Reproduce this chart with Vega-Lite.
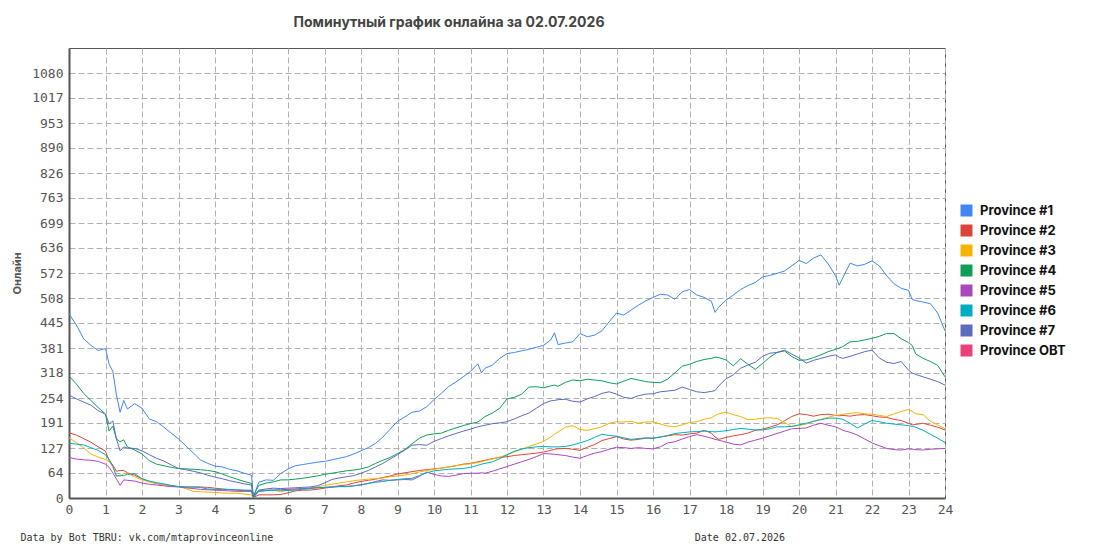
{
  "$schema": "https://vega.github.io/schema/vega-lite/v6.json",
  "width": 876,
  "height": 450,
  "autosize": {"type": "none"},
  "padding": {"left": 69, "top": 48, "right": 150, "bottom": 52},
  "background": "white",
  "title": {
    "text": "Поминутный график онлайна за 02.07.2026",
    "font": "Inter",
    "fontSize": 14,
    "fontWeight": "bold",
    "color": "#444444",
    "dx": -58,
    "offset": 18
  },
  "data": {
    "values": [
      {"h":0,"Province #1":468,"Province #2":166,"Province #3":153,"Province #4":310,"Province #5":103,"Province #6":139,"Province #7":262},
      {"h":0.2,"Province #1":440,"Province #2":160,"Province #3":141,"Province #4":290,"Province #5":99,"Province #6":137,"Province #7":252},
      {"h":0.4,"Province #1":405,"Province #2":151,"Province #3":128,"Province #4":266,"Province #5":97,"Province #6":135,"Province #7":244},
      {"h":0.6,"Province #1":388,"Province #2":142,"Province #3":112,"Province #4":248,"Province #5":96,"Province #6":128,"Province #7":236},
      {"h":0.8,"Province #1":375,"Province #2":130,"Province #3":104,"Province #4":230,"Province #5":93,"Province #6":121,"Province #7":222},
      {"h":1.0,"Province #1":380,"Province #2":119,"Province #3":98,"Province #4":213,"Province #5":86,"Province #6":110,"Province #7":213},
      {"h":1.1,"Province #1":340,"Province #2":95,"Province #3":92,"Province #4":170,"Province #5":78,"Province #6":98,"Province #7":188},
      {"h":1.2,"Province #1":322,"Province #2":84,"Province #3":80,"Province #4":183,"Province #5":64,"Province #6":80,"Province #7":196},
      {"h":1.3,"Province #1":262,"Province #2":68,"Province #3":58,"Province #4":150,"Province #5":48,"Province #6":55,"Province #7":150},
      {"h":1.4,"Province #1":218,"Province #2":70,"Province #3":55,"Province #4":143,"Province #5":32,"Province #6":58,"Province #7":120},
      {"h":1.5,"Province #1":248,"Province #2":70,"Province #3":62,"Province #4":148,"Province #5":46,"Province #6":57,"Province #7":130},
      {"h":1.6,"Province #1":226,"Province #2":64,"Province #3":63,"Province #4":130,"Province #5":45,"Province #6":60,"Province #7":127},
      {"h":1.8,"Province #1":240,"Province #2":58,"Province #3":54,"Province #4":122,"Province #5":43,"Province #6":62,"Province #7":126},
      {"h":2.0,"Province #1":228,"Province #2":49,"Province #3":46,"Province #4":112,"Province #5":38,"Province #6":49,"Province #7":120},
      {"h":2.2,"Province #1":201,"Province #2":42,"Province #3":41,"Province #4":95,"Province #5":35,"Province #6":43,"Province #7":110},
      {"h":2.4,"Province #1":194,"Province #2":37,"Province #3":37,"Province #4":86,"Province #5":33,"Province #6":39,"Province #7":101},
      {"h":2.6,"Province #1":180,"Province #2":34,"Province #3":34,"Province #4":82,"Province #5":31,"Province #6":36,"Province #7":94},
      {"h":2.8,"Province #1":165,"Province #2":31,"Province #3":31,"Province #4":78,"Province #5":29,"Province #6":32,"Province #7":84},
      {"h":3.0,"Province #1":150,"Province #2":29,"Province #3":29,"Province #4":75,"Province #5":28,"Province #6":29,"Province #7":75},
      {"h":3.2,"Province #1":133,"Province #2":28,"Province #3":24,"Province #4":74,"Province #5":26,"Province #6":28,"Province #7":72},
      {"h":3.4,"Province #1":115,"Province #2":28,"Province #3":17,"Province #4":73,"Province #5":24,"Province #6":28,"Province #7":68},
      {"h":3.6,"Province #1":97,"Province #2":28,"Province #3":16,"Province #4":72,"Province #5":22,"Province #6":27,"Province #7":64},
      {"h":3.8,"Province #1":88,"Province #2":27,"Province #3":15,"Province #4":70,"Province #5":21,"Province #6":23,"Province #7":58},
      {"h":4.0,"Province #1":81,"Province #2":25,"Province #3":14,"Province #4":67,"Province #5":20,"Province #6":22,"Province #7":53},
      {"h":4.2,"Province #1":79,"Province #2":23,"Province #3":13,"Province #4":61,"Province #5":19,"Province #6":22,"Province #7":49},
      {"h":4.4,"Province #1":73,"Province #2":21,"Province #3":12,"Province #4":54,"Province #5":18,"Province #6":22,"Province #7":44},
      {"h":4.6,"Province #1":69,"Province #2":20,"Province #3":12,"Province #4":48,"Province #5":17,"Province #6":21,"Province #7":40},
      {"h":4.8,"Province #1":63,"Province #2":19,"Province #3":10,"Province #4":42,"Province #5":17,"Province #6":20,"Province #7":36},
      {"h":5.0,"Province #1":58,"Province #2":19,"Province #3":8,"Province #4":37,"Province #5":17,"Province #6":20,"Province #7":33},
      {"h":5.05,"Province #1":2,"Province #2":1,"Province #3":2,"Province #4":5,"Province #5":3,"Province #6":1,"Province #7":4},
      {"h":5.2,"Province #1":40,"Province #2":8,"Province #3":19,"Province #4":32,"Province #5":17,"Province #6":17,"Province #7":20},
      {"h":5.4,"Province #1":46,"Province #2":8,"Province #3":20,"Province #4":38,"Province #5":19,"Province #6":19,"Province #7":23},
      {"h":5.6,"Province #1":45,"Province #2":8,"Province #3":20,"Province #4":41,"Province #5":20,"Province #6":20,"Province #7":25},
      {"h":5.8,"Province #1":62,"Province #2":9,"Province #3":16,"Province #4":46,"Province #5":21,"Province #6":20,"Province #7":24},
      {"h":6.0,"Province #1":74,"Province #2":13,"Province #3":20,"Province #4":46,"Province #5":22,"Province #6":19,"Province #7":25},
      {"h":6.2,"Province #1":82,"Province #2":18,"Province #3":22,"Province #4":48,"Province #5":23,"Province #6":20,"Province #7":26},
      {"h":6.4,"Province #1":85,"Province #2":20,"Province #3":23,"Province #4":50,"Province #5":24,"Province #6":22,"Province #7":27},
      {"h":6.6,"Province #1":88,"Province #2":20,"Province #3":25,"Province #4":53,"Province #5":25,"Province #6":24,"Province #7":28},
      {"h":6.8,"Province #1":91,"Province #2":22,"Province #3":28,"Province #4":56,"Province #5":26,"Province #6":26,"Province #7":31},
      {"h":7.0,"Province #1":93,"Province #2":25,"Province #3":32,"Province #4":60,"Province #5":27,"Province #6":27,"Province #7":38},
      {"h":7.2,"Province #1":97,"Province #2":28,"Province #3":35,"Province #4":63,"Province #5":28,"Province #6":28,"Province #7":47},
      {"h":7.4,"Province #1":101,"Province #2":31,"Province #3":38,"Province #4":66,"Province #5":29,"Province #6":29,"Province #7":51},
      {"h":7.6,"Province #1":105,"Province #2":33,"Province #3":41,"Province #4":69,"Province #5":29,"Province #6":29,"Province #7":54},
      {"h":7.8,"Province #1":112,"Province #2":38,"Province #3":44,"Province #4":71,"Province #5":31,"Province #6":31,"Province #7":57},
      {"h":8.0,"Province #1":120,"Province #2":42,"Province #3":46,"Province #4":74,"Province #5":33,"Province #6":34,"Province #7":63},
      {"h":8.2,"Province #1":128,"Province #2":45,"Province #3":48,"Province #4":79,"Province #5":37,"Province #6":37,"Province #7":70},
      {"h":8.4,"Province #1":139,"Province #2":48,"Province #3":49,"Province #4":88,"Province #5":42,"Province #6":40,"Province #7":79},
      {"h":8.6,"Province #1":155,"Province #2":52,"Province #3":51,"Province #4":96,"Province #5":46,"Province #6":42,"Province #7":88},
      {"h":8.8,"Province #1":175,"Province #2":56,"Province #3":54,"Province #4":103,"Province #5":45,"Province #6":45,"Province #7":99},
      {"h":9.0,"Province #1":195,"Province #2":61,"Province #3":56,"Province #4":113,"Province #5":46,"Province #6":47,"Province #7":110},
      {"h":9.2,"Province #1":206,"Province #2":64,"Province #3":58,"Province #4":123,"Province #5":47,"Province #6":49,"Province #7":122},
      {"h":9.4,"Province #1":218,"Province #2":67,"Province #3":62,"Province #4":138,"Province #5":46,"Province #6":50,"Province #7":134},
      {"h":9.6,"Province #1":221,"Province #2":70,"Province #3":66,"Province #4":152,"Province #5":55,"Province #6":57,"Province #7":136},
      {"h":9.8,"Province #1":232,"Province #2":72,"Province #3":70,"Province #4":160,"Province #5":66,"Province #6":64,"Province #7":134},
      {"h":10.0,"Province #1":250,"Province #2":74,"Province #3":73,"Province #4":163,"Province #5":60,"Province #6":69,"Province #7":144},
      {"h":10.2,"Province #1":266,"Province #2":76,"Province #3":76,"Province #4":165,"Province #5":56,"Province #6":71,"Province #7":151},
      {"h":10.4,"Province #1":283,"Province #2":79,"Province #3":79,"Province #4":172,"Province #5":55,"Province #6":73,"Province #7":158},
      {"h":10.6,"Province #1":295,"Province #2":82,"Province #3":82,"Province #4":178,"Province #5":58,"Province #6":74,"Province #7":164},
      {"h":10.8,"Province #1":308,"Province #2":86,"Province #3":85,"Province #4":184,"Province #5":62,"Province #6":75,"Province #7":170},
      {"h":11.0,"Province #1":322,"Province #2":88,"Province #3":87,"Province #4":189,"Province #5":63,"Province #6":78,"Province #7":175},
      {"h":11.2,"Province #1":341,"Province #2":92,"Province #3":90,"Province #4":193,"Province #5":63,"Province #6":83,"Province #7":181},
      {"h":11.3,"Province #1":318,"Province #2":94,"Province #3":92,"Province #4":200,"Province #5":64,"Province #6":86,"Province #7":183},
      {"h":11.4,"Province #1":330,"Province #2":96,"Province #3":95,"Province #4":207,"Province #5":63,"Province #6":88,"Province #7":185},
      {"h":11.6,"Province #1":338,"Province #2":100,"Province #3":99,"Province #4":216,"Province #5":68,"Province #6":92,"Province #7":189},
      {"h":11.8,"Province #1":355,"Province #2":103,"Province #3":104,"Province #4":228,"Province #5":74,"Province #6":100,"Province #7":191},
      {"h":12.0,"Province #1":367,"Province #2":105,"Province #3":110,"Province #4":252,"Province #5":80,"Province #6":110,"Province #7":194},
      {"h":12.2,"Province #1":370,"Province #2":108,"Province #3":117,"Province #4":256,"Province #5":86,"Province #6":119,"Province #7":201},
      {"h":12.4,"Province #1":374,"Province #2":110,"Province #3":124,"Province #4":264,"Province #5":92,"Province #6":124,"Province #7":209},
      {"h":12.6,"Province #1":378,"Province #2":112,"Province #3":131,"Province #4":282,"Province #5":98,"Province #6":128,"Province #7":216},
      {"h":12.8,"Province #1":383,"Province #2":114,"Province #3":137,"Province #4":283,"Province #5":105,"Province #6":130,"Province #7":228},
      {"h":13.0,"Province #1":388,"Province #2":117,"Province #3":144,"Province #4":280,"Province #5":113,"Province #6":131,"Province #7":240},
      {"h":13.2,"Province #1":402,"Province #2":121,"Province #3":155,"Province #4":285,"Province #5":112,"Province #6":130,"Province #7":247},
      {"h":13.3,"Province #1":420,"Province #2":124,"Province #3":162,"Province #4":287,"Province #5":111,"Province #6":130,"Province #7":248},
      {"h":13.4,"Province #1":390,"Province #2":125,"Province #3":168,"Province #4":284,"Province #5":110,"Province #6":130,"Province #7":250},
      {"h":13.6,"Province #1":394,"Province #2":126,"Province #3":180,"Province #4":294,"Province #5":108,"Province #6":131,"Province #7":251},
      {"h":13.8,"Province #1":397,"Province #2":124,"Province #3":184,"Province #4":300,"Province #5":104,"Province #6":135,"Province #7":246},
      {"h":14.0,"Province #1":418,"Province #2":121,"Province #3":174,"Province #4":298,"Province #5":101,"Province #6":140,"Province #7":244},
      {"h":14.2,"Province #1":410,"Province #2":129,"Province #3":172,"Province #4":302,"Province #5":108,"Province #6":146,"Province #7":252},
      {"h":14.4,"Province #1":414,"Province #2":136,"Province #3":176,"Province #4":300,"Province #5":114,"Province #6":154,"Province #7":258},
      {"h":14.6,"Province #1":425,"Province #2":146,"Province #3":181,"Province #4":298,"Province #5":118,"Province #6":162,"Province #7":266},
      {"h":14.8,"Province #1":448,"Province #2":151,"Province #3":190,"Province #4":293,"Province #5":124,"Province #6":159,"Province #7":270},
      {"h":15.0,"Province #1":470,"Province #2":156,"Province #3":194,"Province #4":290,"Province #5":129,"Province #6":157,"Province #7":264},
      {"h":15.2,"Province #1":465,"Province #2":150,"Province #3":193,"Province #4":297,"Province #5":128,"Province #6":153,"Province #7":256},
      {"h":15.4,"Province #1":478,"Province #2":147,"Province #3":195,"Province #4":304,"Province #5":126,"Province #6":149,"Province #7":253},
      {"h":15.6,"Province #1":490,"Province #2":149,"Province #3":190,"Province #4":300,"Province #5":128,"Province #6":151,"Province #7":260},
      {"h":15.8,"Province #1":501,"Province #2":152,"Province #3":193,"Province #4":296,"Province #5":126,"Province #6":153,"Province #7":264},
      {"h":16.0,"Province #1":510,"Province #2":152,"Province #3":194,"Province #4":294,"Province #5":125,"Province #6":152,"Province #7":265},
      {"h":16.2,"Province #1":518,"Province #2":155,"Province #3":188,"Province #4":293,"Province #5":130,"Province #6":155,"Province #7":270},
      {"h":16.4,"Province #1":516,"Province #2":158,"Province #3":183,"Province #4":302,"Province #5":140,"Province #6":159,"Province #7":272},
      {"h":16.6,"Province #1":505,"Province #2":161,"Province #3":181,"Province #4":318,"Province #5":143,"Province #6":164,"Province #7":274},
      {"h":16.8,"Province #1":524,"Province #2":160,"Province #3":186,"Province #4":335,"Province #5":150,"Province #6":166,"Province #7":282},
      {"h":17.0,"Province #1":530,"Province #2":163,"Province #3":192,"Province #4":340,"Province #5":156,"Province #6":168,"Province #7":276},
      {"h":17.2,"Province #1":516,"Province #2":165,"Province #3":194,"Province #4":347,"Province #5":161,"Province #6":169,"Province #7":270},
      {"h":17.4,"Province #1":510,"Province #2":172,"Province #3":200,"Province #4":352,"Province #5":157,"Province #6":170,"Province #7":268},
      {"h":17.6,"Province #1":500,"Province #2":165,"Province #3":204,"Province #4":355,"Province #5":152,"Province #6":169,"Province #7":271},
      {"h":17.7,"Province #1":472,"Province #2":155,"Province #3":210,"Province #4":358,"Province #5":149,"Province #6":168,"Province #7":273},
      {"h":17.8,"Province #1":485,"Province #2":149,"Province #3":214,"Province #4":357,"Province #5":147,"Province #6":169,"Province #7":285},
      {"h":18.0,"Province #1":503,"Province #2":154,"Province #3":218,"Province #4":351,"Province #5":142,"Province #6":171,"Province #7":303},
      {"h":18.2,"Province #1":516,"Province #2":158,"Province #3":212,"Province #4":336,"Province #5":137,"Province #6":174,"Province #7":313},
      {"h":18.4,"Province #1":530,"Province #2":161,"Province #3":207,"Province #4":354,"Province #5":135,"Province #6":177,"Province #7":330},
      {"h":18.6,"Province #1":540,"Province #2":165,"Province #3":199,"Province #4":340,"Province #5":142,"Province #6":175,"Province #7":338},
      {"h":18.8,"Province #1":548,"Province #2":172,"Province #3":200,"Province #4":327,"Province #5":147,"Province #6":173,"Province #7":345},
      {"h":19.0,"Province #1":562,"Province #2":175,"Province #3":203,"Province #4":342,"Province #5":152,"Province #6":173,"Province #7":360},
      {"h":19.2,"Province #1":566,"Province #2":180,"Province #3":204,"Province #4":358,"Province #5":158,"Province #6":176,"Province #7":368},
      {"h":19.4,"Province #1":571,"Province #2":186,"Province #3":202,"Province #4":370,"Province #5":164,"Province #6":181,"Province #7":370},
      {"h":19.6,"Province #1":577,"Province #2":196,"Province #3":192,"Province #4":374,"Province #5":170,"Province #6":181,"Province #7":376},
      {"h":19.8,"Province #1":590,"Province #2":207,"Province #3":182,"Province #4":360,"Province #5":176,"Province #6":182,"Province #7":366},
      {"h":20.0,"Province #1":604,"Province #2":214,"Province #3":184,"Province #4":350,"Province #5":177,"Province #6":186,"Province #7":356},
      {"h":20.2,"Province #1":596,"Province #2":212,"Province #3":188,"Province #4":351,"Province #5":178,"Province #6":190,"Province #7":343},
      {"h":20.4,"Province #1":610,"Province #2":208,"Province #3":195,"Province #4":357,"Province #5":185,"Province #6":195,"Province #7":350},
      {"h":20.6,"Province #1":618,"Province #2":212,"Province #3":200,"Province #4":364,"Province #5":190,"Province #6":199,"Province #7":355},
      {"h":20.8,"Province #1":595,"Province #2":213,"Province #3":205,"Province #4":372,"Province #5":185,"Province #6":203,"Province #7":360},
      {"h":21.0,"Province #1":565,"Province #2":210,"Province #3":210,"Province #4":378,"Province #5":181,"Province #6":203,"Province #7":364},
      {"h":21.1,"Province #1":541,"Province #2":209,"Province #3":211,"Province #4":381,"Province #5":177,"Province #6":202,"Province #7":358},
      {"h":21.2,"Province #1":560,"Province #2":210,"Province #3":213,"Province #4":385,"Province #5":172,"Province #6":200,"Province #7":355},
      {"h":21.4,"Province #1":597,"Province #2":208,"Province #3":215,"Province #4":397,"Province #5":167,"Province #6":190,"Province #7":360},
      {"h":21.6,"Province #1":590,"Province #2":211,"Province #3":217,"Province #4":398,"Province #5":160,"Province #6":178,"Province #7":366},
      {"h":21.8,"Province #1":594,"Province #2":212,"Province #3":214,"Province #4":402,"Province #5":150,"Province #6":188,"Province #7":372},
      {"h":22.0,"Province #1":603,"Province #2":209,"Province #3":213,"Province #4":406,"Province #5":140,"Province #6":197,"Province #7":376},
      {"h":22.2,"Province #1":590,"Province #2":206,"Province #3":210,"Province #4":411,"Province #5":133,"Province #6":194,"Province #7":356},
      {"h":22.4,"Province #1":565,"Province #2":205,"Province #3":207,"Province #4":418,"Province #5":126,"Province #6":190,"Province #7":345},
      {"h":22.6,"Province #1":545,"Province #2":200,"Province #3":214,"Province #4":418,"Province #5":123,"Province #6":188,"Province #7":342},
      {"h":22.8,"Province #1":533,"Province #2":197,"Province #3":220,"Province #4":405,"Province #5":122,"Province #6":186,"Province #7":347},
      {"h":23.0,"Province #1":528,"Province #2":190,"Province #3":225,"Province #4":395,"Province #5":125,"Province #6":184,"Province #7":325},
      {"h":23.1,"Province #1":505,"Province #2":186,"Province #3":220,"Province #4":388,"Province #5":124,"Province #6":182,"Province #7":318},
      {"h":23.2,"Province #1":502,"Province #2":187,"Province #3":214,"Province #4":366,"Province #5":123,"Province #6":180,"Province #7":314},
      {"h":23.4,"Province #1":498,"Province #2":190,"Province #3":212,"Province #4":355,"Province #5":122,"Province #6":172,"Province #7":308},
      {"h":23.6,"Province #1":494,"Province #2":185,"Province #3":195,"Province #4":347,"Province #5":124,"Province #6":162,"Province #7":302},
      {"h":23.8,"Province #1":470,"Province #2":180,"Province #3":186,"Province #4":337,"Province #5":125,"Province #6":152,"Province #7":296},
      {"h":24.0,"Province #1":425,"Province #2":173,"Province #3":176,"Province #4":308,"Province #5":126,"Province #6":141,"Province #7":287}
    ]
  },
  "transform": [
    {
      "fold": ["Province #1", "Province #2", "Province #3", "Province #4", "Province #5", "Province #6", "Province #7"],
      "as": ["province", "online"]
    }
  ],
  "mark": {"type": "line", "strokeWidth": 1},
  "encoding": {
    "x": {
      "field": "h",
      "type": "quantitative",
      "scale": {"domain": [0, 24], "nice": false, "zero": false},
      "axis": {
        "values": [0,1,2,3,4,5,6,7,8,9,10,11,12,13,14,15,16,17,18,19,20,21,22,23,24],
        "title": "Data by Bot TBRU: vk.com/mtaprovinceonline\u00a0\u00a0\u00a0\u00a0\u00a0\u00a0\u00a0\u00a0\u00a0\u00a0\u00a0\u00a0\u00a0\u00a0\u00a0\u00a0\u00a0\u00a0\u00a0\u00a0\u00a0\u00a0\u00a0\u00a0\u00a0\u00a0\u00a0\u00a0\u00a0\u00a0\u00a0\u00a0\u00a0\u00a0\u00a0\u00a0\u00a0\u00a0\u00a0\u00a0\u00a0\u00a0\u00a0\u00a0\u00a0\u00a0\u00a0\u00a0\u00a0\u00a0\u00a0\u00a0\u00a0\u00a0\u00a0\u00a0\u00a0\u00a0\u00a0\u00a0\u00a0\u00a0\u00a0\u00a0\u00a0\u00a0\u00a0\u00a0\u00a0\u00a0Date 02.07.2026",
        "titleFont": "DejaVu Sans Mono",
        "titleFontSize": 10,
        "titleFontWeight": "normal",
        "titleColor": "#333333",
        "titleAlign": "left",
        "titleBaseline": "alphabetic",
        "titleX": -49,
        "titleY": 42,
        "labelFont": "DejaVu Sans Mono",
        "labelFontSize": 13,
        "labelColor": "#555555",
        "labelPadding": 5,
        "labelFlush": false,
        "ticks": false,
        "domainColor": "#555555",
        "domainWidth": 2,
        "gridColor": "#b0b0b0",
        "gridDash": [6, 3],
        "gridWidth": 1
      }
    },
    "y": {
      "field": "online",
      "type": "quantitative",
      "scale": {"domain": [0, 1144], "nice": false, "zero": true},
      "axis": {
        "values": [0, 63.556, 127.111, 190.667, 254.222, 317.778, 381.333, 444.889, 508.444, 572, 635.556, 699.111, 762.667, 826.222, 889.778, 953.333, 1016.889, 1080.444],
        "format": ".0f",
        "title": "Онлайн",
        "titleFont": "Inter",
        "titleFontSize": 11,
        "titleFontWeight": "bold",
        "titleColor": "#555555",
        "titleX": -52,
        "titleY": 225,
        "titleAngle": -90,
        "titleAlign": "center",
        "titleBaseline": "middle",
        "labelFont": "DejaVu Sans Mono",
        "labelFontSize": 13,
        "labelColor": "#555555",
        "labelPadding": 6,
        "labelFlush": false,
        "ticks": false,
        "domainColor": "#555555",
        "domainWidth": 2,
        "gridColor": "#b0b0b0",
        "gridDash": [6, 3],
        "gridWidth": 1
      }
    },
    "color": {
      "field": "province",
      "type": "nominal",
      "scale": {
        "domain": ["Province #1", "Province #2", "Province #3", "Province #4", "Province #5", "Province #6", "Province #7", "Province OBT"],
        "range": ["#4285F4", "#DB4437", "#F4B400", "#0F9D58", "#AB47BC", "#00ACC1", "#5C6BC0", "#EC407A"]
      },
      "legend": {
        "title": null,
        "orient": "none",
        "legendX": 891,
        "legendY": 156,
        "padding": 0,
        "symbolType": "square",
        "symbolSize": 144,
        "symbolStrokeWidth": 0,
        "symbolOpacity": 1,
        "labelFont": "Inter",
        "labelFontSize": 13,
        "labelFontWeight": "bold",
        "labelColor": "#111111",
        "labelOffset": 7,
        "rowPadding": 6,
        "encode": {
          "symbols": {
            "update": {
              "fill": {"scale": "color", "field": "value"},
              "stroke": {"value": "transparent"}
            }
          }
        }
      }
    }
  },
  "config": {
    "view": {"stroke": "#555555", "strokeWidth": 1}
  }
}
